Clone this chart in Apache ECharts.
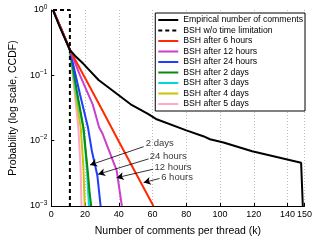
<!DOCTYPE html>
<html>
<head>
<meta charset="utf-8">
<script src="https://cdn.jsdelivr.net/npm/echarts@6/dist/echarts.min.js"></script>
<style>
  html, body { margin: 0; padding: 0; background: #fff; }
  #chart { width: 315px; height: 242px; }
</style>
</head>
<body>
<div id="chart"></div>
<script>
// [k, CCDF] pairs
var empirical = [[1, 1], [5, 0.55], [11, 0.245], [14, 0.2], [19, 0.15], [28, 0.085], [38, 0.054], [47, 0.036], [57, 0.026], [62, 0.0215], [80, 0.0144], [90, 0.0117], [94, 0.0105], [102, 0.0094], [119, 0.0069], [148, 0.0046], [149, 0.001]];
var noLimit = [[1, 1], [11, 1], [11, 0.001]];
var after6h = [[1, 1], [6, 0.5], [11, 0.245], [20, 0.091], [30, 0.030], [40, 0.0097], [50, 0.0032], [60.5, 0.001]];
var after12h = [[1, 1], [6, 0.5], [11, 0.245], [17, 0.1], [24.5, 0.036], [28.3, 0.016], [30.2, 0.013], [38.7, 0.0035], [41.8, 0.001]];
var after24h = [[1, 1], [6, 0.5], [11, 0.245], [17, 0.051], [21.7, 0.016], [24, 0.007], [27.3, 0.0029], [29.2, 0.001]];
var after2d = [[1, 1], [6, 0.5], [11, 0.245], [15.1, 0.058], [19, 0.016], [21.7, 0.0032], [22.6, 0.0017], [23.6, 0.001]];
var after3d = [[1, 1], [6, 0.5], [11, 0.245], [14.5, 0.06], [18.9, 0.016], [21, 0.004], [22.3, 0.001]];
var after4d = [[1, 1], [6, 0.5], [11, 0.245], [14, 0.06], [17.4, 0.016], [19, 0.004], [19.8, 0.001]];
var after5d = [[1, 1], [6, 0.52], [11, 0.25], [13.5, 0.065], [16, 0.016], [17.3, 0.004], [17.9, 0.001]];

var names = ["Empirical number of comments", "BSH w/o time limitation", "BSH after 6 hours", "BSH after 12 hours",
  "BSH after 24 hours", "BSH after 2 days", "BSH after 3 days", "BSH after 4 days", "BSH after 5 days"];
var colors = ["#000000", "#000000", "#ff2a00", "#cc3fcc", "#1f3dff", "#0a8a0a", "#00d8d8", "#c8c400", "#ffa8cc"];

// annotation labels and arrows: [text anchor], [tail, head]
var annoText = ["2 days", "24 hours", "12 hours", "6 hours"];
var annoPos = [[56.0, 0.0090], [58.3, 0.00567], [61.1, 0.00389], [65.1, 0.00271]];
var arrows = [
  [[54.7, 0.0081], [22.9, 0.00424]],
  [[57.6, 0.00526], [27.7, 0.00306]],
  [[60.4, 0.00366], [38.7, 0.00271]],
  [[64.1, 0.00264], [54.7, 0.00228]]
];

var font = "Liberation Sans, Arial, Helvetica, sans-serif";
var chart = echarts.init(document.getElementById("chart"));

var dataSets = [empirical, noLimit, after6h, after12h, after24h, after2d, after3d, after4d, after5d];
var series = [];
// colored curves first, then black ones on top
var order = [8, 7, 6, 5, 4, 3, 2, 0, 1];
order.forEach(function (i) {
  series.push({
    name: names[i],
    type: "line",
    data: dataSets[i],
    symbol: "none",
    z: 3,
    lineStyle: {
      color: colors[i],
      width: 2,
      type: i === 1 ? [4, 3] : "solid"
    },
    itemStyle: { color: colors[i] }
  });
});

series.push({
  type: "scatter",
  symbolSize: 0,
  silent: true,
  z: 5,
  data: annoPos.map(function (p, i) { return { value: p, name: annoText[i] }; }),
  label: {
    show: true,
    position: "right",
    distance: 0,
    formatter: "{b}",
    color: "#000",
    fontSize: 9.5,
    fontFamily: font
  }
});

series.push({
  type: "line",
  data: [],
  silent: true,
  markLine: {
    silent: true,
    animation: false,
    symbol: ["none", "arrow"],
    symbolSize: [6, 7],
    label: { show: false },
    lineStyle: { color: "#000", width: 0.8, type: "solid" },
    data: arrows.map(function (a) {
      return [{ coord: a[0] }, { coord: a[1] }];
    })
  }
});

var option = {
  animation: false,
  grid: { left: 40, right: 10, top: 10, bottom: 31 },
  legend: {
    data: names,
    orient: "vertical",
    right: 10,
    top: 13,
    itemWidth: 20,
    itemHeight: 8,
    itemGap: 0.5,
    padding: [2, 2, 2, 2],
    backgroundColor: "#fff",
    borderColor: "#000",
    borderWidth: 1,
    itemStyle: { opacity: 0 },
    textStyle: { fontSize: 8.7, fontFamily: font, color: "#000", lineHeight: 10 }
  },
  xAxis: {
    type: "value",
    min: 0,
    max: 150,
    interval: 20,
    name: "Number of comments per thread (k)",
    nameLocation: "middle",
    nameGap: 20,
    nameTextStyle: { fontSize: 10.5, fontFamily: font, color: "#000" },
    axisLine: { lineStyle: { color: "#000", width: 1 } },
    axisTick: { inside: true, length: 3, lineStyle: { color: "#000" } },
    axisLabel: { fontSize: 9, fontFamily: font, color: "#000", margin: 4 },
    splitLine: { show: true, lineStyle: { color: "#bdbdbd", type: [1, 2], width: 1 } }
  },
  yAxis: {
    type: "log",
    min: 0.001,
    max: 1,
    name: "Probability (log scale, CCDF)",
    nameLocation: "middle",
    nameGap: 30,
    nameTextStyle: { fontSize: 10.5, fontFamily: font, color: "#000" },
    axisLine: { lineStyle: { color: "#000", width: 1 } },
    axisTick: { inside: true, length: 3, lineStyle: { color: "#000" } },
    splitLine: { show: false },
    axisLabel: {
      fontFamily: font,
      color: "#000",
      margin: 4,
      formatter: function (v) {
        var e = Math.round(Math.log10(v));
        return "{b|10}{s|" + (e < 0 ? "\u2212" + (-e) : e) + "}";
      },
      rich: {
        b: { fontSize: 9, fontFamily: font, color: "#000" },
        s: { fontSize: 6.5, fontFamily: font, color: "#000", verticalAlign: "top", padding: [0, 0, 6, 0] }
      }
    }
  },
  series: series
};

chart.setOption(option);
</script>
</body>
</html>
